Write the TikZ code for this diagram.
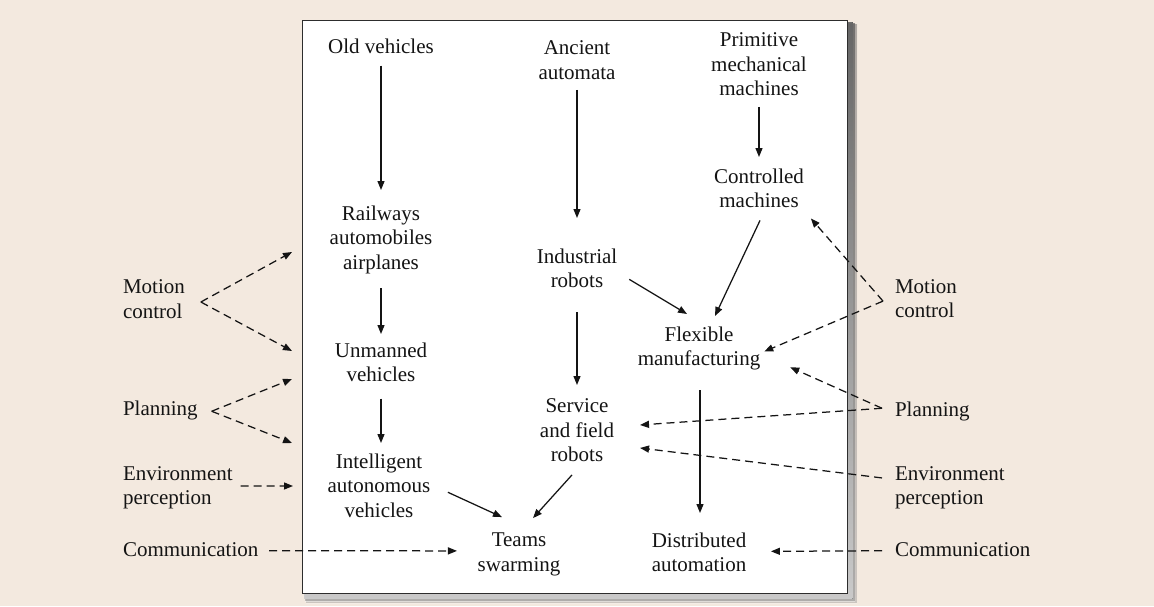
\documentclass[tikz,border=0pt]{standalone}
\usepackage{fontspec}
\setmainfont{Liberation Serif}
\usetikzlibrary{arrows.meta}
\definecolor{paper}{RGB}{243,233,223}
\definecolor{ink}{RGB}{20,20,20}
\definecolor{frame}{RGB}{45,45,45}
\definecolor{shade}{RGB}{105,99,93}
\begin{document}
\begin{tikzpicture}[x=1pt,y=-1pt,
  lbl/.style={inner sep=0pt, outer sep=0pt, align=center, anchor=north, text=ink,
              font=\fontsize{21}{24.5}\selectfont},
  side/.style={lbl, align=left, anchor=north west},
  arr/.style={draw=ink, line width=1.25pt, -{Triangle[length=9pt,width=7pt]}},
  darr/.style={arr, dash pattern=on 8pt off 5pt}]

% page and framed panel with its soft shadow
\useasboundingbox (0,0) rectangle (1154,606);
\fill[paper] (0,0) rectangle (1154,606);
\fill[shade, opacity=0.22] (306,24) rectangle (857,603);
\fill[shade, opacity=0.40] (305,23) rectangle (855,601);
\fill[shade, opacity=0.75] (304,22) rectangle (852.5,598.5);
\filldraw[fill=white, draw=frame, line width=1.3pt] (302.5,20.5) rectangle (847.5,593.5);

% development lines
\node[lbl] (oldveh)      at (381,38.8)  {Old vehicles};
\node[lbl] (ancient)     at (577,40.8)  {Ancient\\automata};
\node[lbl] (primitive)   at (759,32.7)  {Primitive\\mechanical\\machines};
\node[lbl] (controlled)  at (759,168.7) {Controlled\\machines};
\node[lbl] (railways)    at (381,205.8) {Railways\\automobiles\\airplanes};
\node[lbl] (industrial)  at (577,248.7) {Industrial\\robots};
\node[lbl] (flexible)    at (699,326.7) {Flexible\\manufacturing};
\node[lbl] (unmanned)    at (381,342.8) {Unmanned\\vehicles};
\node[lbl] (service)     at (577,398.8) {Service\\and field\\robots};
\node[lbl] (intelligent) at (379,453.8) {Intelligent\\autonomous\\vehicles};
\node[lbl] (teams)       at (519,533.1) {Teams\\swarming};
\node[lbl] (distributed) at (699,532.7) {Distributed\\automation};

% enabling technologies
\node[side] (motionL) at (123,279.7) {Motion\\control};
\node[side] (planL)   at (123,400.7) {Planning};
\node[side] (envL)    at (123,466.1) {Environment\\perception};
\node[side] (commL)   at (123,542.7) {Communication};
\node[side] (motionR) at (895,279.1) {Motion\\control};
\node[side] (planR)   at (895,401.7) {Planning};
\node[side] (envR)    at (895,466.1) {Environment\\perception};
\node[side] (commR)   at (895,542.7) {Communication};

% free ends of the left-hand arrows, just outside the panel
\coordinate (toRail)   at (292,252);
\coordinate (toUnm1)   at (292,351);
\coordinate (toUnm2)   at (292,379);
\coordinate (toIntel1) at (292,443);
\coordinate (toIntel2) at (293,486);

% solid evolution arrows
\draw[arr, shorten <=12pt, shorten >=15.8pt] (oldveh.south) -- (oldveh.south |- railways.north);
\draw[arr, shorten <=10.5pt, shorten >=30.7pt] (ancient.south) -- (ancient.south |- industrial.north);
\draw[arr, shorten <=11pt, shorten >=11.7pt] (primitive.south) -- (primitive.south |- controlled.north);
\draw[arr, shorten <=14.4pt, shorten >=8.8pt] (railways.south) -- (railways.south |- unmanned.north);
\draw[arr, shorten <=16.5pt, shorten >=10.8pt] (unmanned.south) -- (unmanned.south |- intelligent.north);
\draw[arr, shorten <=24.5pt, shorten >=13.8pt] (industrial.south) -- (industrial.south |- service.north);
\draw[arr, shorten <=20pt, shorten >=19.7pt] ([xshift=1pt]flexible.south) -- ([xshift=1pt]flexible.south |- distributed.north);
\draw[arr] ([shift={(12,11)}]industrial.east) -- ([shift={(-12,-12.7)}]flexible.north);
\draw[arr] ([shift={(1,12.5)}]controlled.south) -- ([shift={(16,-10.7)}]flexible.north);
\draw[arr] ([shift={(17.6,6.6)}]intelligent.east) -- ([shift={(-17,-16)}]teams.north);
\draw[arr] ([shift={(-5,13)}]service.south) -- ([shift={(14,-15)}]teams.north);

% dashed influence arrows, left side
\draw[darr] ([shift={(16,3)}]motionL.east) -- (toRail);
\draw[darr] ([shift={(16,3)}]motionL.east) -- (toUnm1);
\draw[darr] ([shift={(14,1)}]planL.east) -- (toUnm2);
\draw[darr] ([shift={(14,1)}]planL.east) -- (toIntel1);
\draw[darr] ([shift={(8,-1.6)}]envL.east) -- (toIntel2);
\draw[darr] ([shift={(10.7,1)}]commL.east) -- ([shift={(-20.6,-3.6)}]teams.west);

% dashed influence arrows, right side
\draw[darr] ([shift={(-12,2.7)}]motionR.west) -- ([shift={(7,10.5)}]controlled.south east);
\draw[darr] ([shift={(-12,2.7)}]motionR.west) -- ([shift={(4,3)}]flexible.east);
\draw[darr] ([shift={(-13,-3)}]planR.west) -- ([shift={(30,-3)}]flexible.south east);
\draw[darr] ([shift={(-13,-3)}]planR.west) -- ([shift={(26,-5.4)}]service.east);
\draw[darr] ([shift={(-13,-9.6)}]envR.west) -- ([shift={(26,17.6)}]service.east);
\draw[darr] ([shift={(-13,1)}]commR.west) -- ([shift={(24.7,-1)}]distributed.east);
\end{tikzpicture}
\end{document}
